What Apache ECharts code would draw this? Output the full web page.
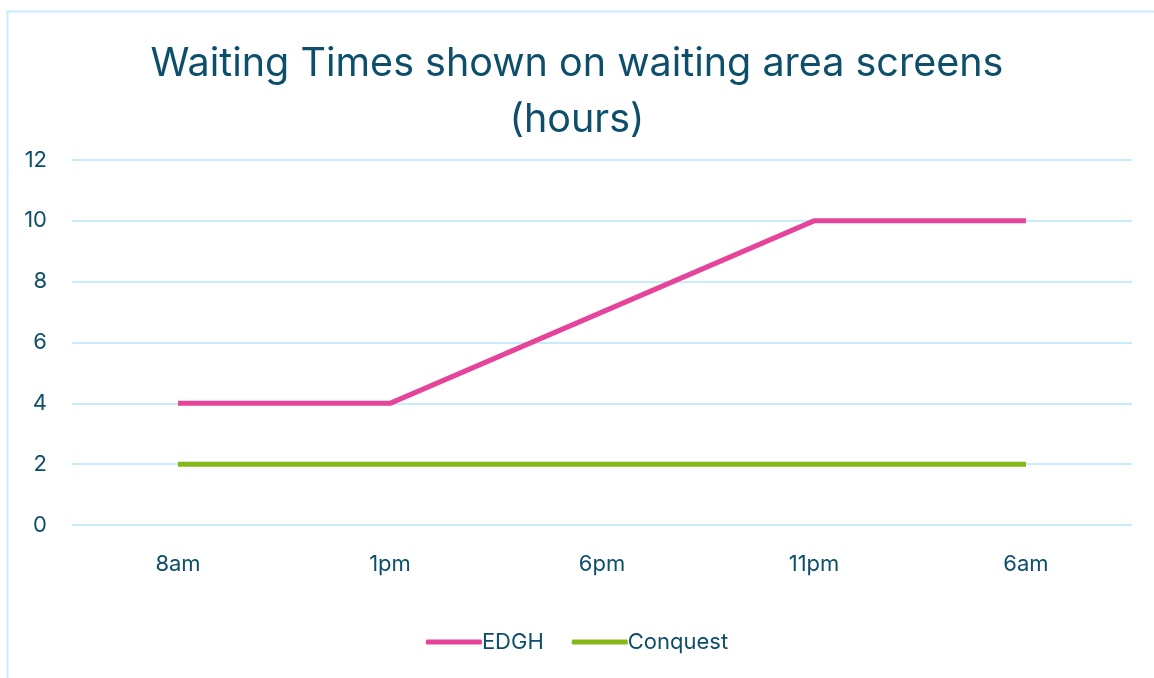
<!DOCTYPE html>
<html>
<head>
<meta charset="utf-8">
<script src="https://cdn.jsdelivr.net/npm/echarts@6/dist/echarts.min.js"></script>
<style>
html,body{margin:0;padding:0;background:#fff;}
#c{width:1154px;height:678px;}
</style>
</head>
<body>
<div id="c"></div>
<script>
const categories = ['8am', '1pm', '6pm', '11pm', '6am'];
const edgh = [4, 4, 7, 10, 10];
const conquest = [2, 2, 2, 2, 2];
const yTicks = {min: 0, max: 12, interval: 2};

const textColor = '#0d4f6b';
const font = 'Inter';
const chart = echarts.init(document.getElementById('c'));
chart.setOption({
  backgroundColor: '#ffffff',
  animation: false,
  graphic: [{
    type: 'rect',
    shape: {x: 7.5, y: 11.5, width: 1300, height: 900},
    style: {fill: 'none', stroke: '#c9ecfb', lineWidth: 2},
    silent: true
  }],
  title: {
    text: 'Waiting Times shown on waiting area screens\n(hours)',
    left: 'center',
    top: 31,
    textStyle: {fontFamily: font, fontSize: 39.5, fontWeight: 'normal', color: textColor, lineHeight: 56}
  },
  legend: {
    bottom: 20,
    left: 'center',
    itemWidth: 56,
    itemHeight: 5,
    itemGap: 28,
    textStyle: {fontFamily: font, fontSize: 22, color: textColor, padding: [0,0,0,-5]},
    data: [
      {name: 'EDGH', icon: 'roundRect'},
      {name: 'Conquest', icon: 'roundRect'}
    ]
  },
  grid: {left: 72, right: 22, top: 160, bottom: 153},
  xAxis: {
    type: 'category',
    data: categories,
    boundaryGap: true,
    axisLine: {show: false},
    axisTick: {show: false},
    axisLabel: {fontFamily: font, fontSize: 22, color: textColor, margin: 28}
  },
  yAxis: {
    type: 'value',
    min: yTicks.min, max: yTicks.max, interval: yTicks.interval,
    axisLine: {show: false},
    axisTick: {show: false},
    axisLabel: {fontFamily: font, fontSize: 22, color: textColor, margin: 25, align: 'right'},
    splitLine: {lineStyle: {color: '#c9ecfb', width: 2}}
  },
  series: [
    {name: 'EDGH', type: 'line', data: edgh, symbol: 'none', color: '#e6439a',
     lineStyle: {width: 5, color: '#e6439a'}},
    {name: 'Conquest', type: 'line', data: conquest, symbol: 'none', color: '#84b817',
     lineStyle: {width: 5, color: '#84b817'}}
  ]
});
</script>
</body>
</html>
